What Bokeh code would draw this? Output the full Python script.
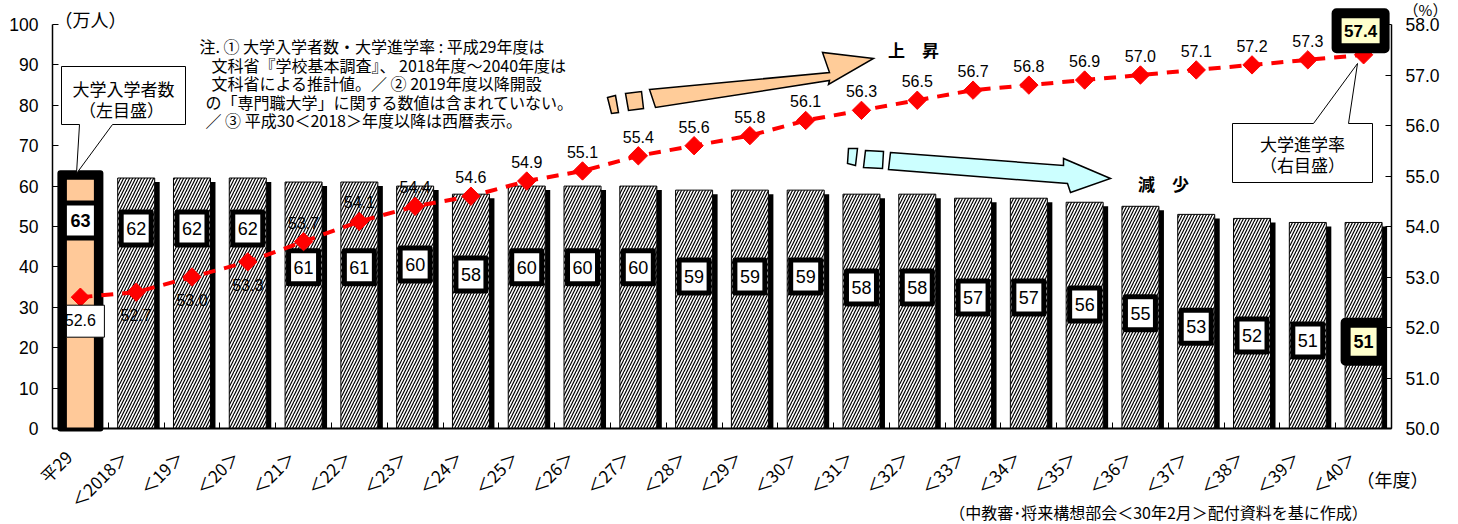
import math
from bokeh.plotting import figure
from bokeh.models import Range1d, LinearAxis, FixedTicker, ColumnDataSource, Label, PrintfTickFormatter
from bokeh.core.properties import value
from bokeh.embed import file_html
from bokeh.resources import INLINE

# ---------------- data ----------------
years = ["平29", "＜2018＞"] + ["＜%d＞" % n for n in range(19, 41)]
entrants = [63, 62, 62, 62, 61, 61, 60, 58, 60, 60, 60, 59, 59, 59, 58, 58, 57, 57, 56, 55, 53, 52, 51, 51]
rates = [52.6, 52.7, 53.0, 53.3, 53.7, 54.1, 54.4, 54.6, 54.9, 55.1, 55.4, 55.6, 55.8, 56.1,
         56.3, 56.5, 56.7, 56.8, 56.9, 57.0, 57.1, 57.2, 57.3, 57.4]
# heights (left-axis units) at which the source figure places each value box
box_y = [51.5, 49.5, 49.5, 49.5, 39.9, 39.9, 40.6, 38.1, 39.9, 39.9, 39.9, 37.6, 37.6, 37.6,
         34.9, 34.9, 32.4, 32.4, 30.7, 28.5, 25.2, 23.0, 21.8, 21.5]

LAT = "Liberation Sans, Noto Sans CJK JP"
JP = "Noto Sans CJK JP"

# ---------------- geometry (pixels of the picture) ----------------
W, H = 1450, 524
AX_L, AX_R, AX_T, AX_B = 52, 1391, 24, 428     # plotting area bounded by the axes
N = len(years)
PXU = (AX_R - AX_L) / N
PYU = (AX_B - AX_T) / 100.0
PRU = (AX_B - AX_T) / 8.0


def sx(px):
    return (px - AX_L) / PXU


def sy(py):
    return (AX_B - py) / PYU


p = figure(frame_width=W, frame_height=H,
           x_range=Range1d(sx(0), sx(W)), y_range=Range1d(sy(H), sy(0)),
           output_backend="svg", toolbar_location=None,
           min_border_left=0, min_border_top=0, min_border_right=0, min_border_bottom=0)
p.outline_line_color = None
p.xgrid.visible = False
p.ygrid.visible = False
p.background_fill_color = "white"

p.extra_y_ranges = {"rate": Range1d(50 - (H - AX_B) / PRU, 50 + AX_B / PRU)}

# axes
xs = [i + 0.5 for i in range(N)]
lab_x = [x - 12 / PXU for x in xs]   # rotated labels end a little left of each bar centre
xa = p.xaxis[0]
xa.fixed_location = 0
xa.bounds = (0, N)
xa.ticker = FixedTicker(ticks=lab_x, minor_ticks=list(range(N + 1)))
xa.major_label_overrides = {x: years[i] for i, x in enumerate(lab_x)}
xa.major_tick_in = 0
xa.major_tick_out = 0
xa.minor_tick_in = 6
xa.minor_tick_out = 0
xa.major_label_orientation = math.pi / 4
xa.major_label_standoff = 25
xa.major_label_text_font = JP
xa.major_label_text_font_size = "17px"
xa.major_label_text_color = "black"
xa.axis_line_color = "black"
xa.axis_line_width = 2

ya = p.yaxis[0]
ya.fixed_location = 0
ya.bounds = (0, 100)
ya.ticker = FixedTicker(ticks=list(range(0, 101, 10)))
ya.major_tick_in = 6
ya.major_tick_out = 0
ya.minor_tick_in = 0
ya.minor_tick_out = 0
ya.major_label_text_font = LAT
ya.major_label_text_font_size = "17.5px"
ya.major_label_text_color = "black"
ya.axis_line_color = "black"
ya.axis_line_width = 1.5
ya.major_label_standoff = 14

rax = LinearAxis(y_range_name="rate", ticker=FixedTicker(ticks=list(range(50, 59))),
                 formatter=PrintfTickFormatter(format="%.1f"), fixed_location=N, bounds=(50, 58))
rax.major_tick_in = 6
rax.major_tick_out = 0
rax.minor_tick_in = 0
rax.minor_tick_out = 0
rax.major_label_text_font = LAT
rax.major_label_text_font_size = "17.5px"
rax.major_label_text_color = "black"
rax.axis_line_color = "black"
rax.axis_line_width = 1.5
rax.major_label_standoff = 14
p.add_layout(rax, "right")

# ---------------- bars ----------------
hb = ColumnDataSource(dict(x=xs[1:], v=entrants[1:],
                           sx=[x + 5 / PXU for x in xs[1:]],
                           st=[v - 4 / PYU for v in entrants[1:]]))
BW = 37 / PXU
p.vbar(x="sx", top="st", bottom=0, width=BW, source=hb, fill_color="black", line_color=None)
p.vbar(x="x", top="v", bottom=0, width=BW, source=hb, fill_color="white", line_color="black",
       line_width=1, hatch_pattern="/", hatch_color="black", hatch_scale=6, hatch_weight=1.2)

# first (actual) bar: orange with heavy black frame
p.vbar(x=[xs[0]], top=[entrants[0] + 0.15], bottom=0, width=40 / PXU, fill_color="black",
       line_color="black", line_width=6, line_join="round")
p.vbar(x=[xs[0]], top=[entrants[0] - 1.4], bottom=0, width=27 / PXU, fill_color="#FFC999",
       line_color=None)

# value boxes
bs = ColumnDataSource(dict(x=xs[1:-1], y=box_y[1:-1], t=[str(v) for v in entrants[1:-1]]))
p.rect(x="x", y="y", width=30, height=33, width_units="screen", height_units="screen", source=bs,
       fill_color="white", line_color="black", line_width=5, line_join="round")
p.text(x="x", y="y", text="t", source=bs, text_align="center", text_baseline="middle",
       text_font=value(LAT), text_font_size="18px", text_color="black")

p.rect(x=[xs[0]], y=[box_y[0]], width=32, height=35, width_units="screen", height_units="screen",
       fill_color="white", line_color="black", line_width=5)
p.text(x=[xs[0]], y=[box_y[0]], text=[str(entrants[0])], text_align="center", text_baseline="middle",
       text_font=value(LAT), text_font_size="18px", text_font_style="bold", text_color="black")

p.rect(x=[xs[-1]], y=[box_y[-1]], width=36, height=38, width_units="screen", height_units="screen",
       fill_color="#FFFFCC", line_color="black", line_width=10, line_join="round")
p.text(x=[xs[-1]], y=[box_y[-1]], text=[str(entrants[-1])], text_align="center", text_baseline="middle",
       text_font=value(LAT), text_font_size="18px", text_font_style="bold", text_color="black")

# ---------------- rate line ----------------
rs = ColumnDataSource(dict(x=xs, r=rates))
p.line(x="x", y="r", source=rs, y_range_name="rate", line_color="#FF0000", line_width=4,
       line_dash="12 9")
p.scatter(x="x", y="r", source=rs, y_range_name="rate", marker="square", angle=math.pi / 4,
          size=13, fill_color="#FF0000", line_color="#FF0000")

# rate labels
p.rect(x=[xs[0] + 5 / PXU], y=[rates[0] - 24 / PRU], width=38, height=32, width_units="screen",
       height_units="screen", y_range_name="rate", fill_color="white", line_color="black", line_width=1)
lab_y = [r - 23 / PRU if i < 4 else r + 19 / PRU for i, r in enumerate(rates)]
ls = ColumnDataSource(dict(x=xs[:-1], y=lab_y[:-1], t=["%.1f" % r for r in rates[:-1]]))
p.text(x="x", y="y", text="t", source=ls, y_range_name="rate", text_align="center",
       text_baseline="middle", text_font=value(LAT), text_font_size="16px", text_color="black")

p.rect(x=[xs[-1] - 3 / PXU], y=[rates[-1] + 24 / PRU], width=48, height=35, width_units="screen",
       height_units="screen", y_range_name="rate", fill_color="#FFFFCC", line_color="black",
       line_width=10, line_join="round")
p.text(x=[xs[-1] - 3 / PXU], y=[rates[-1] + 24 / PRU], text=["%.1f" % rates[-1]], y_range_name="rate",
       text_align="center", text_baseline="middle", text_font=value(LAT), text_font_size="17px",
       text_font_style="bold", text_color="black")

# ---------------- arrows ----------------
def patch(pts, fill, lw=1.5):
    p.patch([sx(a) for a, b in pts], [sy(b) for a, b in pts], fill_color=fill, line_color="black",
            line_width=lw, line_join="miter")


OR = "#FFCC99"
CY = "#CCFFFF"
patch([(649, 89), (829, 72), (822, 52), (873, 58), (828, 84), (829, 80), (655, 107)], OR)
patch([(607, 97), (615, 95), (618, 112), (611, 113)], OR)
patch([(625, 93), (641, 91), (643, 108), (628, 110)], OR)
patch([(890, 152), (1063, 165), (1063, 158), (1110, 178), (1070, 192), (1067, 183), (888, 169)], CY)
patch([(848, 148), (857, 148), (855, 165), (847, 163)], CY)
patch([(865, 150), (883, 151), (882, 168), (863, 167)], CY)

# callouts
patch([(61, 66), (185, 66), (185, 124), (112, 124), (76, 173), (79, 124), (61, 124)], "white", 1)
patch([(1232, 123), (1313, 123), (1357, 63), (1348, 123), (1372, 123), (1372, 182), (1232, 182)],
      "white", 1)


def txt(px, py, s, size="16px", align="left", style="normal", font=JP):
    p.add_layout(Label(x=sx(px), y=sy(py), text=s, text_align=align, text_baseline="middle",
                       text_font=font, text_font_size=size, text_font_style=style, text_color="black"))


txt(123, 88, "大学入学者数", "17px", "center")
txt(121, 109, "（左目盛）", "17px", "center")
txt(1302, 143, "大学進学率", "17px", "center")
txt(1302, 164, "（右目盛）", "17px", "center")

txt(913, 49, "上　昇", "17px", "center", "bold")
txt(1163, 183, "減　少", "17px", "center", "bold")

# notes
txt(199, 45, "注.  ①  大学入学者数・大学進学率 : 平成29年度は")
txt(211, 64, "文科省『学校基本調査』、 2018年度～2040年度は")
txt(211, 82, "文科省による推計値。／  ②  2019年度以降開設")
txt(205, 101, "の「専門職大学」に関する数値は含まれていない。")
txt(205, 119, "／  ③  平成30＜2018＞年度以降は西暦表示。")

# texts around the axes
txt(90, 18, "（万人）", "18px", "center")
txt(1425, 9, "（%）", "15px", "center")
txt(1392, 478, "（年度）", "18px", "center")
txt(1158, 511, "（中教審･将来構想部会＜30年2月＞配付資料を基に作成）", "16px", "center")

open("out.html", "w").write(file_html(p, INLINE))
